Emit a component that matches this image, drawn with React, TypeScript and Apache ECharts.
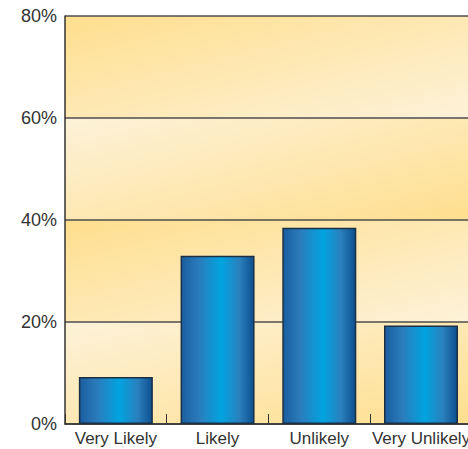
import React, { useEffect, useRef } from "react";
import * as echarts from "echarts";

const categories = ["Very Likely", "Likely", "Unlikely", "Very Unlikely"];
const values = [9.2, 33, 38.5, 19.3];
const yTicks = { min: 0, max: 80, interval: 20 };

export default function App() {
  const ref = useRef<HTMLDivElement>(null);
  useEffect(() => {
    if (!ref.current) return;
    const chart = echarts.init(ref.current, undefined, { renderer: "svg" });
    const dark = "#FFDF8E";
    const light = "#FDF2D9";
    const lightToDark = new echarts.graphic.LinearGradient(0, 0, 1, 1, [
      { offset: 0, color: light },
      { offset: 1, color: dark },
    ]);
    const darkToLight = new echarts.graphic.LinearGradient(0, 0, 1, 1, [
      { offset: 0, color: dark },
      { offset: 1, color: light },
    ]);
    const barGrad = new echarts.graphic.LinearGradient(0, 0, 1, 0, [
      { offset: 0, color: "#1A5E9E" },
      { offset: 0.25, color: "#2B7DBD" },
      { offset: 0.55, color: "#00A4E0" },
      { offset: 0.8, color: "#2B80BE" },
      { offset: 1, color: "#0C4F8E" },
    ]);
    chart.setOption({
      animation: false,
      backgroundColor: "#ffffff",
      grid: { left: 65, top: 16, bottom: 25, right: 0, containLabel: false },
      xAxis: {
        type: "category",
        data: categories,
        boundaryGap: true,
        axisLine: { show: true, lineStyle: { color: "#333333", width: 1.5 } },
        axisTick: {
          show: true,
          inside: true,
          length: 10,
          lineStyle: { color: "#333333", width: 1 },
        },
        axisLabel: {
          interval: 0,
          margin: 6,
          color: "#333333",
          fontSize: 17,
          fontFamily: "Liberation Sans, Arial, sans-serif",
        },
        splitLine: { show: false },
      },
      yAxis: {
        type: "value",
        min: yTicks.min,
        max: yTicks.max,
        interval: yTicks.interval,
        axisLine: { show: true, lineStyle: { color: "#333333", width: 1.5 } },
        axisTick: { show: false },
        axisLabel: {
          formatter: "{value}%",
          margin: 8,
          color: "#333333",
          fontSize: 18,
          fontFamily: "Liberation Sans, Arial, sans-serif",
        },
        splitLine: { show: true, lineStyle: { color: "#4D4D4D", width: 1.5 } },
        splitArea: {
          show: true,
          areaStyle: { color: [lightToDark, darkToLight] },
        },
      },
      series: [
        {
          type: "bar",
          data: values,
          barWidth: 74,
          itemStyle: {
            color: barGrad,
            borderColor: "#1B2F45",
            borderWidth: 1.5,
          },
        },
      ],
    });
    return () => chart.dispose();
  }, []);
  return (
    <div
      style={{
        position: "absolute",
        left: 0,
        top: 0,
        width: 468,
        height: 449,
        overflow: "hidden",
      }}
    >
      <div ref={ref} style={{ width: 473, height: 449 }} />
    </div>
  );
}
